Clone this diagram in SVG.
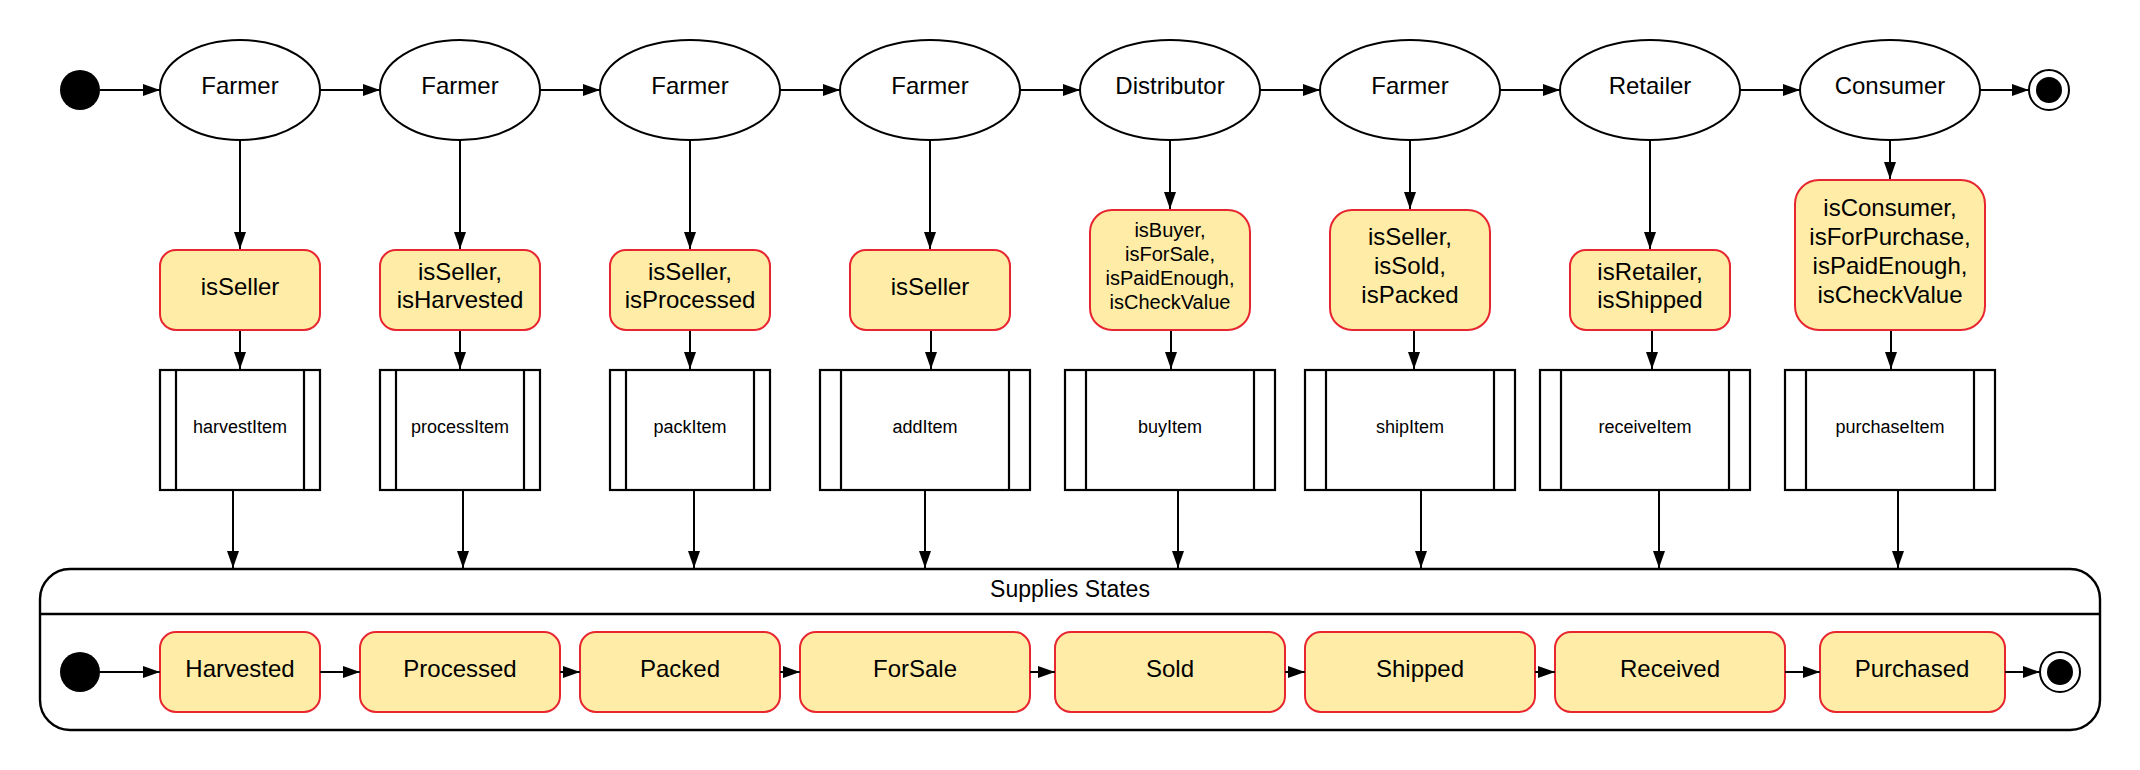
<svg xmlns="http://www.w3.org/2000/svg" width="2140" height="770" viewBox="0 0 2140 770">
<style>
text{font-family:"Liberation Sans",Arial,sans-serif;fill:#000;text-anchor:middle}
.actor{fill:#fff;stroke:#000;stroke-width:2}
.cond{fill:#ffeca6;stroke:#e7262f;stroke-width:2}
.proc{fill:#fff;stroke:#000;stroke-width:2.2}
.bar{stroke:#000;stroke-width:2.2}
.t24{font-size:24px}
.t20{font-size:20px}
.t18{font-size:18px}
.t23{font-size:23px}
.edge{fill:none;stroke:#000;stroke-width:2;marker-end:url(#arr)}
.cont{fill:#fff;stroke:#000;stroke-width:2.4}
</style>
<defs>
<marker id="arr" markerUnits="userSpaceOnUse" markerWidth="18" markerHeight="14" refX="17" refY="6" orient="auto">
<path d="M0,0 L17,6 L0,12 z" fill="#000"/>
</marker>
</defs>
<rect width="2140" height="770" fill="#fff"/>

<!-- Container -->
<g id="supplies-states">
<rect class="cont" x="40" y="569" width="2060" height="161" rx="30"/>
<line x1="40" y1="614" x2="2100" y2="614" stroke="#000" stroke-width="2.4"/>
<text class="t23" x="1070" y="597">Supplies States</text>
</g>

<!-- Top start / end -->
<g id="start"><circle cx="80" cy="90" r="20" fill="#000"/></g>
<g id="end"><circle cx="2049" cy="90" r="20" fill="#fff" stroke="#000" stroke-width="2"/><circle cx="2049" cy="90" r="13" fill="#000"/></g>

<!-- Actors -->
<g id="actor1"><ellipse class="actor" cx="240" cy="90" rx="80" ry="50"/><text class="t24" x="240" y="94">Farmer</text></g>
<g id="actor2"><ellipse class="actor" cx="460" cy="90" rx="80" ry="50"/><text class="t24" x="460" y="94">Farmer</text></g>
<g id="actor3"><ellipse class="actor" cx="690" cy="90" rx="90" ry="50"/><text class="t24" x="690" y="94">Farmer</text></g>
<g id="actor4"><ellipse class="actor" cx="930" cy="90" rx="90" ry="50"/><text class="t24" x="930" y="94">Farmer</text></g>
<g id="actor5"><ellipse class="actor" cx="1170" cy="90" rx="90" ry="50"/><text class="t24" x="1170" y="94">Distributor</text></g>
<g id="actor6"><ellipse class="actor" cx="1410" cy="90" rx="90" ry="50"/><text class="t24" x="1410" y="94">Farmer</text></g>
<g id="actor7"><ellipse class="actor" cx="1650" cy="90" rx="90" ry="50"/><text class="t24" x="1650" y="94">Retailer</text></g>
<g id="actor8"><ellipse class="actor" cx="1890" cy="90" rx="90" ry="50"/><text class="t24" x="1890" y="94">Consumer</text></g>

<!-- Conditions -->
<g id="cond1"><rect class="cond" x="160" y="250" width="160" height="80" rx="16"/><text class="t24" x="240" y="295">isSeller</text></g>
<g id="cond2"><rect class="cond" x="380" y="250" width="160" height="80" rx="16"/><text class="t24" x="460" y="280">isSeller,</text><text class="t24" x="460" y="308">isHarvested</text></g>
<g id="cond3"><rect class="cond" x="610" y="250" width="160" height="80" rx="16"/><text class="t24" x="690" y="280">isSeller,</text><text class="t24" x="690" y="308">isProcessed</text></g>
<g id="cond4"><rect class="cond" x="850" y="250" width="160" height="80" rx="16"/><text class="t24" x="930" y="295">isSeller</text></g>
<g id="cond5"><rect class="cond" x="1090" y="210" width="160" height="120" rx="22"/><text class="t20" x="1170" y="237">isBuyer,</text><text class="t20" x="1170" y="261">isForSale,</text><text class="t20" x="1170" y="285">isPaidEnough,</text><text class="t20" x="1170" y="309">isCheckValue</text></g>
<g id="cond6"><rect class="cond" x="1330" y="210" width="160" height="120" rx="22"/><text class="t24" x="1410" y="245">isSeller,</text><text class="t24" x="1410" y="274">isSold,</text><text class="t24" x="1410" y="303">isPacked</text></g>
<g id="cond7"><rect class="cond" x="1570" y="250" width="160" height="80" rx="16"/><text class="t24" x="1650" y="280">isRetailer,</text><text class="t24" x="1650" y="308">isShipped</text></g>
<g id="cond8"><rect class="cond" x="1795" y="180" width="190" height="150" rx="24"/><text class="t24" x="1890" y="216">isConsumer,</text><text class="t24" x="1890" y="245">isForPurchase,</text><text class="t24" x="1890" y="274">isPaidEnough,</text><text class="t24" x="1890" y="303">isCheckValue</text></g>

<!-- Processes -->
<g id="proc1"><rect class="proc" x="160" y="370" width="160" height="120"/><line class="bar" x1="176" y1="370" x2="176" y2="490"/><line class="bar" x1="304" y1="370" x2="304" y2="490"/><text class="t18" x="240" y="433">harvestItem</text></g>
<g id="proc2"><rect class="proc" x="380" y="370" width="160" height="120"/><line class="bar" x1="396" y1="370" x2="396" y2="490"/><line class="bar" x1="524" y1="370" x2="524" y2="490"/><text class="t18" x="460" y="433">processItem</text></g>
<g id="proc3"><rect class="proc" x="610" y="370" width="160" height="120"/><line class="bar" x1="626" y1="370" x2="626" y2="490"/><line class="bar" x1="754" y1="370" x2="754" y2="490"/><text class="t18" x="690" y="433">packItem</text></g>
<g id="proc4"><rect class="proc" x="820" y="370" width="210" height="120"/><line class="bar" x1="841" y1="370" x2="841" y2="490"/><line class="bar" x1="1009" y1="370" x2="1009" y2="490"/><text class="t18" x="925" y="433">addItem</text></g>
<g id="proc5"><rect class="proc" x="1065" y="370" width="210" height="120"/><line class="bar" x1="1086" y1="370" x2="1086" y2="490"/><line class="bar" x1="1254" y1="370" x2="1254" y2="490"/><text class="t18" x="1170" y="433">buyItem</text></g>
<g id="proc6"><rect class="proc" x="1305" y="370" width="210" height="120"/><line class="bar" x1="1326" y1="370" x2="1326" y2="490"/><line class="bar" x1="1494" y1="370" x2="1494" y2="490"/><text class="t18" x="1410" y="433">shipItem</text></g>
<g id="proc7"><rect class="proc" x="1540" y="370" width="210" height="120"/><line class="bar" x1="1561" y1="370" x2="1561" y2="490"/><line class="bar" x1="1729" y1="370" x2="1729" y2="490"/><text class="t18" x="1645" y="433">receiveItem</text></g>
<g id="proc8"><rect class="proc" x="1785" y="370" width="210" height="120"/><line class="bar" x1="1806" y1="370" x2="1806" y2="490"/><line class="bar" x1="1974" y1="370" x2="1974" y2="490"/><text class="t18" x="1890" y="433">purchaseItem</text></g>

<!-- Inner states -->
<g id="s-start"><circle cx="80" cy="672" r="20" fill="#000"/></g>
<g id="s-end"><circle cx="2060" cy="672" r="20" fill="#fff" stroke="#000" stroke-width="2"/><circle cx="2060" cy="672" r="13" fill="#000"/></g>
<g id="s-harvested"><rect class="cond" x="160" y="632" width="160" height="80" rx="16"/><text class="t24" x="240" y="677">Harvested</text></g>
<g id="s-processed"><rect class="cond" x="360" y="632" width="200" height="80" rx="16"/><text class="t24" x="460" y="677">Processed</text></g>
<g id="s-packed"><rect class="cond" x="580" y="632" width="200" height="80" rx="16"/><text class="t24" x="680" y="677">Packed</text></g>
<g id="s-forsale"><rect class="cond" x="800" y="632" width="230" height="80" rx="16"/><text class="t24" x="915" y="677">ForSale</text></g>
<g id="s-sold"><rect class="cond" x="1055" y="632" width="230" height="80" rx="16"/><text class="t24" x="1170" y="677">Sold</text></g>
<g id="s-shipped"><rect class="cond" x="1305" y="632" width="230" height="80" rx="16"/><text class="t24" x="1420" y="677">Shipped</text></g>
<g id="s-received"><rect class="cond" x="1555" y="632" width="230" height="80" rx="16"/><text class="t24" x="1670" y="677">Received</text></g>
<g id="s-purchased"><rect class="cond" x="1820" y="632" width="185" height="80" rx="16"/><text class="t24" x="1912" y="677">Purchased</text></g>

<!-- Connectors -->
<g id="connectors">
<path class="edge" d="M100,90 H160"/>
<path class="edge" d="M320,90 H380"/>
<path class="edge" d="M540,90 H600"/>
<path class="edge" d="M780,90 H840"/>
<path class="edge" d="M1020,90 H1080"/>
<path class="edge" d="M1260,90 H1320"/>
<path class="edge" d="M1500,90 H1560"/>
<path class="edge" d="M1740,90 H1800"/>
<path class="edge" d="M1980,90 H2029"/>

<path class="edge" d="M240,140 V249"/>
<path class="edge" d="M460,140 V249"/>
<path class="edge" d="M690,140 V249"/>
<path class="edge" d="M930,140 V249"/>
<path class="edge" d="M1170,140 V209"/>
<path class="edge" d="M1410,140 V209"/>
<path class="edge" d="M1650,140 V249"/>
<path class="edge" d="M1890,140 V179"/>

<path class="edge" d="M240,331 V369"/>
<path class="edge" d="M460,331 V369"/>
<path class="edge" d="M690,331 V369"/>
<path class="edge" d="M931,331 V369"/>
<path class="edge" d="M1171,331 V369"/>
<path class="edge" d="M1414,331 V369"/>
<path class="edge" d="M1652,331 V369"/>
<path class="edge" d="M1891,331 V369"/>

<path class="edge" d="M233,491 V568"/>
<path class="edge" d="M463,491 V568"/>
<path class="edge" d="M694,491 V568"/>
<path class="edge" d="M925,491 V568"/>
<path class="edge" d="M1178,491 V568"/>
<path class="edge" d="M1421,491 V568"/>
<path class="edge" d="M1659,491 V568"/>
<path class="edge" d="M1898,491 V568"/>

<path class="edge" d="M100,672 H160"/>
<path class="edge" d="M320,672 H360"/>
<path class="edge" d="M560,672 H580"/>
<path class="edge" d="M780,672 H800"/>
<path class="edge" d="M1030,672 H1055"/>
<path class="edge" d="M1285,672 H1305"/>
<path class="edge" d="M1535,672 H1555"/>
<path class="edge" d="M1785,672 H1820"/>
<path class="edge" d="M2005,672 H2040"/>
</g>
</svg>
